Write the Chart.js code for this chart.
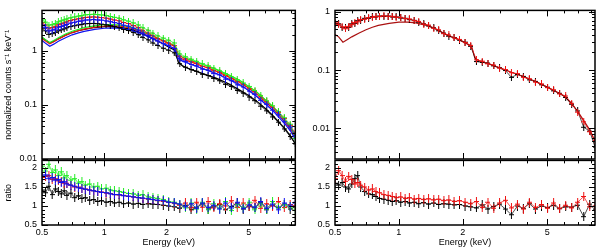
<!DOCTYPE html>
<html><head><meta charset="utf-8">
<script src="https://cdn.jsdelivr.net/npm/chart.js@4.4.0/dist/chart.umd.min.js"></script>
<style>
html,body{margin:0;padding:0;background:#fff;}
#wrap{position:relative;width:600px;height:252px;overflow:hidden;background:#fff;}
canvas{position:absolute;}
</style></head><body>
<div id="wrap">
<canvas id="lu" width="300" height="170" style="left:0;top:0"></canvas>
<canvas id="ru" width="300" height="170" style="left:300px;top:0"></canvas>
<canvas id="ll" width="300" height="102" style="left:0;top:150px"></canvas>
<canvas id="rl" width="300" height="102" style="left:300px;top:150px"></canvas>
</div>
<script>
// ---------- data ----------
const energy = [0.50,0.52,0.54,0.56,0.58,0.60,0.62,0.64,0.66,0.69,0.72,0.75,0.78,0.81,0.85,0.89,0.93,0.97,1.02,1.07,1.12,1.18,1.24,1.31,1.38,1.46,1.54,1.63,1.72,1.82,1.93,2.05,2.18,2.32,2.47,2.63,2.80,2.98,3.18,3.39,3.62,3.86,4.12,4.40,4.70,5.02,5.36,5.72,6.11,6.52,6.96,7.43,7.93,8.40];
const modelEnergy = [0.5,0.52,0.545,0.57,0.6,0.65,0.7,0.75,0.8,0.9,1.0,1.1,1.2,1.35,1.5,1.7,1.9,2.1,2.2,2.28,2.4,2.6,3.0,3.5,4.0,4.5,5.0,5.5,6.0,6.5,7.0,7.5,8.0,8.4];

// left panel: counts
const leftBlack = [2.62,2.35,2.02,2.08,2.2,2.35,2.45,2.55,2.68,2.82,2.92,3.02,3.1,3.18,3.2,3.22,3.18,3.12,3.02,2.92,2.8,2.7,2.5,2.38,2.2,2.0,1.78,1.6,1.4,1.26,1.12,1.03,0.92,0.58,0.50,0.45,0.42,0.37,0.35,0.31,0.28,0.24,0.22,0.185,0.165,0.14,0.12,0.095,0.078,0.060,0.048,0.036,0.026,0.019];
const leftRed = [3.35,3.02,2.62,2.7,2.85,3.05,3.18,3.3,3.45,3.65,3.8,3.92,4.02,4.15,4.2,4.25,4.18,4.12,4.02,3.88,3.72,3.6,3.35,3.2,2.95,2.7,2.4,2.14,1.9,1.7,1.53,1.4,1.25,0.8,0.71,0.63,0.59,0.52,0.49,0.43,0.40,0.35,0.31,0.27,0.24,0.20,0.175,0.14,0.115,0.092,0.073,0.056,0.042,0.030];
const leftGreen = [3.75,3.4,3.0,3.05,3.2,3.45,3.6,3.75,3.9,4.1,4.25,4.4,4.5,4.65,4.7,4.75,4.7,4.62,4.5,4.32,4.18,4.0,3.75,3.55,3.3,3.02,2.68,2.4,2.12,1.9,1.72,1.57,1.4,0.88,0.78,0.7,0.64,0.58,0.53,0.48,0.43,0.38,0.33,0.29,0.255,0.22,0.185,0.15,0.12,0.097,0.076,0.058,0.044,0.024];
const leftBlue = [3.0,2.72,2.33,2.42,2.52,2.74,2.83,2.97,3.08,3.27,3.38,3.52,3.58,3.72,3.74,3.81,3.73,3.71,3.58,3.47,3.33,3.22,2.98,2.87,2.63,2.42,2.13,1.92,1.68,1.52,1.36,1.26,1.11,0.71,0.64,0.56,0.53,0.46,0.44,0.38,0.36,0.30,0.28,0.235,0.215,0.18,0.158,0.122,0.103,0.080,0.066,0.049,0.039,0.027];
const leftModelBlack = [1.75,1.58,1.4,1.5,1.68,1.95,2.18,2.35,2.5,2.7,2.8,2.8,2.72,2.5,2.15,1.72,1.38,1.12,1.03,0.62,0.52,0.46,0.38,0.31,0.245,0.19,0.15,0.115,0.087,0.065,0.048,0.036,0.026,0.019];
const leftModelRed = [1.7,1.52,1.35,1.47,1.65,1.93,2.18,2.37,2.53,2.75,2.88,2.92,2.86,2.64,2.3,1.9,1.55,1.3,1.21,0.79,0.7,0.63,0.52,0.42,0.33,0.265,0.205,0.155,0.116,0.088,0.065,0.048,0.035,0.025];
const leftModelGreen = [1.8,1.6,1.42,1.55,1.75,2.05,2.3,2.5,2.68,2.9,3.05,3.05,3.0,2.75,2.4,1.95,1.6,1.35,1.25,0.85,0.76,0.68,0.56,0.45,0.36,0.29,0.22,0.17,0.125,0.095,0.07,0.052,0.038,0.028];
const leftModelBlue = [1.55,1.38,1.22,1.33,1.5,1.75,1.98,2.15,2.3,2.5,2.62,2.65,2.6,2.4,2.1,1.72,1.4,1.18,1.1,0.72,0.64,0.57,0.47,0.38,0.3,0.24,0.185,0.14,0.105,0.08,0.059,0.044,0.032,0.023];
// left panel: ratio
const leftRatioBlack = [1.42,1.35,1.52,1.3,1.45,1.38,1.32,1.4,1.28,1.34,1.22,1.27,1.2,1.22,1.15,1.17,1.12,1.14,1.1,1.12,1.08,1.1,1.06,1.08,1.05,1.07,1.04,1.06,1.05,1.04,1.02,1.0,0.98,0.94,1.02,0.9,0.97,1.06,0.92,0.98,1.04,0.9,0.99,1.08,0.92,1.0,0.95,1.1,0.9,1.02,0.96,1.05,0.92,0.98];
const leftRatioRed = [1.75,1.78,1.8,1.7,1.72,1.66,1.65,1.6,1.6,1.55,1.5,1.5,1.46,1.45,1.42,1.4,1.38,1.37,1.34,1.33,1.3,1.29,1.28,1.25,1.24,1.22,1.2,1.18,1.17,1.14,1.12,1.1,1.07,1.02,1.08,0.96,1.1,0.97,1.12,0.95,1.06,1.0,1.14,0.96,1.08,0.98,1.15,0.94,1.06,1.0,1.12,0.96,1.04,1.0];
const leftRatioGreen = [2.05,1.92,2.1,1.88,1.95,1.8,1.9,1.74,1.8,1.68,1.72,1.6,1.64,1.55,1.58,1.5,1.52,1.45,1.47,1.42,1.4,1.38,1.36,1.33,1.32,1.28,1.3,1.24,1.22,1.2,1.17,1.12,1.1,1.05,0.95,1.08,0.92,1.1,0.9,1.06,0.94,1.12,0.88,1.04,0.96,1.1,0.9,1.06,0.92,1.12,0.95,1.04,0.98,0.88];
const leftRatioBlue = [1.78,1.82,1.72,1.75,1.68,1.7,1.62,1.64,1.58,1.55,1.52,1.48,1.47,1.44,1.42,1.4,1.38,1.36,1.35,1.32,1.3,1.3,1.27,1.26,1.24,1.22,1.21,1.19,1.17,1.15,1.14,1.1,1.08,1.05,0.98,1.06,0.94,1.08,0.96,1.02,0.92,1.08,0.95,1.1,0.93,1.03,0.97,1.12,0.94,1.05,0.9,1.08,1.0,1.1];

// right panel: counts
const rightBlack = [0.63,0.62,0.54,0.53,0.54,0.62,0.63,0.7,0.71,0.77,0.77,0.82,0.81,0.84,0.83,0.84,0.81,0.81,0.78,0.77,0.73,0.71,0.66,0.62,0.57,0.53,0.47,0.43,0.38,0.36,0.325,0.3,0.255,0.14,0.135,0.132,0.118,0.11,0.098,0.075,0.084,0.078,0.068,0.064,0.056,0.051,0.044,0.04,0.034,0.026,0.02,0.0105,0.009,0.0048];
const rightRed = [0.66,0.6,0.55,0.51,0.56,0.6,0.65,0.67,0.73,0.74,0.79,0.8,0.83,0.82,0.85,0.83,0.83,0.8,0.8,0.76,0.75,0.7,0.68,0.61,0.59,0.52,0.49,0.42,0.4,0.355,0.335,0.295,0.265,0.15,0.142,0.128,0.122,0.108,0.102,0.09,0.087,0.075,0.071,0.062,0.058,0.05,0.046,0.039,0.036,0.027,0.019,0.013,0.0088,0.0062];
const rightModel = [0.405,0.37,0.3,0.33,0.37,0.43,0.49,0.54,0.58,0.63,0.66,0.66,0.64,0.58,0.5,0.39,0.335,0.28,0.26,0.16,0.142,0.131,0.108,0.088,0.074,0.062,0.051,0.043,0.036,0.027,0.019,0.013,0.009,0.006];
// right panel: ratio
const rightRatioBlack = [1.6,1.55,1.62,1.5,1.45,1.58,1.72,1.8,1.5,1.38,1.32,1.3,1.25,1.2,1.18,1.15,1.12,1.14,1.1,1.12,1.08,1.1,1.06,1.09,1.05,1.08,1.04,1.06,1.05,1.03,1.04,1.0,0.98,0.95,1.03,0.92,0.99,1.05,0.92,0.77,1.0,0.94,1.06,0.92,1.0,0.96,1.02,0.93,0.98,0.97,1.02,0.72,1.05,0.9];
const rightRatioRed = [1.72,1.93,1.8,1.65,1.78,1.7,1.58,1.62,1.55,1.5,1.42,1.45,1.38,1.35,1.3,1.28,1.25,1.22,1.24,1.2,1.22,1.18,1.2,1.17,1.19,1.16,1.18,1.14,1.16,1.12,1.14,1.1,1.06,1.12,0.96,1.1,0.94,1.08,1.15,0.95,1.05,0.92,1.1,0.96,1.04,0.94,1.08,0.93,1.02,0.95,1.1,1.25,0.98,1.0];
const unityLine = [1,1];
const unityEnergy = [0.5,8.4];

// ticks
const xLabelTicks = [0.5,1,2,5];
const xMajorTicks = [1,2,5];
const xMinorTicks = [0.6,0.7,0.8,0.9,3,4,6,7,8];
const leftCountTicks = [0.01,0.1,1];
const leftCountMinor = [0.02,0.03,0.04,0.05,0.06,0.07,0.08,0.09,0.2,0.3,0.4,0.5,0.6,0.7,0.8,0.9,2,3,4,5];
const rightCountTicks = [0.01,0.1,1];
const rightCountMinor = [0.004,0.005,0.006,0.007,0.008,0.009,0.02,0.03,0.04,0.05,0.06,0.07,0.08,0.09,0.2,0.3,0.4,0.5,0.6,0.7,0.8,0.9];
const ratioTicks = [0.5,1,1.5,2];
const ratioMinor = [0.6,0.7,0.8,0.9,1.1,1.2,1.3,1.4,1.6,1.7,1.8,1.9,2.1];

// ---------- styles ----------
const C = {black:'#000000', red:'#ee1111', green:'#22ee22', blue:'#1111ee', line:'#22dd22', darkred:'#aa1111'};
Chart.defaults.font.family = '"Liberation Sans", Arial, sans-serif';
Chart.defaults.font.size = 9;
Chart.defaults.color = '#000';

// error-bar style cross marker (horizontal bin half-width w, vertical error h)
function crossImg(col, w, h) {
  const c = document.createElement('canvas');
  c.width = 2 * w + 1; c.height = 2 * h + 1;
  const g = c.getContext('2d');
  g.fillStyle = col;
  g.fillRect(0, h, 2 * w + 1, 1);
  g.fillRect(w, 0, 1, 2 * h + 1);
  return c;
}

const pts = (xs, ys) => xs.map((x,i)=>({x:x, y:ys[i]}));
const dataSet = (vals, col, order, h) => ({data: pts(energy, vals), borderColor: col, backgroundColor: col,
  showLine: true, borderWidth: 0.7, pointStyle: crossImg(col, 2, h), pointRadius: 3, order: order, tension: 0});
const modelSet = (vals, col, order) => ({data: pts(modelEnergy, vals), borderColor: col, showLine: true,
  borderWidth: 1.2, pointRadius: 0, order: order, tension: 0});
const unitySet = () => ({data: pts(unityEnergy, unityLine), borderColor: C.line, borderWidth: 1.5, pointRadius: 0, order: -1});

const frame = {
  id: 'frame',
  afterDatasetsDraw(chart, args, o) {
    const {ctx, chartArea: a} = chart;
    const xs = chart.scales.x, ys = chart.scales.y;
    ctx.save();
    ctx.strokeStyle = '#000';
    ctx.lineWidth = 1;
    ctx.beginPath();
    const xt = (vals, len) => vals.forEach(v => { const p = Math.round(xs.getPixelForValue(v)) + 0.5;
      ctx.moveTo(p, a.bottom); ctx.lineTo(p, a.bottom - len); ctx.moveTo(p, a.top); ctx.lineTo(p, a.top + len); });
    const yt = (vals, len) => vals.forEach(v => { const p = Math.round(ys.getPixelForValue(v)) + 0.5;
      ctx.moveTo(a.left, p); ctx.lineTo(a.left + len, p); ctx.moveTo(a.right, p); ctx.lineTo(a.right - len, p); });
    xt(o.xMajor, 6); xt(o.xMinor, 3); yt(o.yMajor, 6); yt(o.yMinor, 3);
    ctx.stroke();
    ctx.lineWidth = 1.5;
    ctx.strokeRect(a.left, a.top, a.right - a.left, a.bottom - a.top);
    ctx.restore();
  }
};

function makeChart(id, datasets, cfg) {
  const xAxis = {type: 'logarithmic', min: 0.5, max: 8.4, display: cfg.xLabels,
    grid: {display: false, drawTicks: false}, border: {display: false},
    afterBuildTicks: s => { s.ticks = xLabelTicks.map(v => ({value: v})); },
    afterFit: s => { s.height = cfg.xLabels ? 27 : 0; },
    ticks: {autoSkip: false, maxRotation: 0, padding: 2, callback: v => String(v)},
    title: {display: cfg.xLabels, text: 'Energy (keV)', padding: {top: 0, bottom: 4}}};
  const yAxis = {type: cfg.yType, min: cfg.yMin, max: cfg.yMax,
    grid: {display: false, drawTicks: false}, border: {display: false},
    afterBuildTicks: s => { s.ticks = cfg.yTicks.map(v => ({value: v})); },
    afterFit: s => { s.width = cfg.yWidth; },
    ticks: {autoSkip: false, padding: 5, callback: v => String(v)},
    title: {display: !!cfg.yTitle, text: cfg.yTitle || '', padding: {top: 3, bottom: 0}}};
  return new Chart(document.getElementById(id), {
    type: 'scatter',
    data: {datasets: datasets},
    options: {responsive: false, animation: false, devicePixelRatio: 1, events: [],
      layout: {padding: cfg.padding},
      scales: {x: xAxis, y: yAxis},
      plugins: {legend: {display: false}, tooltip: {enabled: false},
        frame: {xMajor: xMajorTicks, xMinor: xMinorTicks, yMajor: cfg.yTicks, yMinor: cfg.yMinor}}},
    plugins: [frame]
  });
}

makeChart('lu', [
  dataSet(leftBlue, C.blue, 0, 3), dataSet(leftGreen, C.green, 1, 3), dataSet(leftRed, C.red, 2, 3), dataSet(leftBlack, C.black, 3, 3),
  modelSet(leftModelBlue, C.blue, 4), modelSet(leftModelGreen, C.green, 5), modelSet(leftModelRed, C.red, 6), modelSet(leftModelBlack, C.black, 7)
], {xLabels: false, yType: 'logarithmic', yMin: 0.01, yMax: 5.6, yTicks: leftCountTicks, yMinor: leftCountMinor,
  yWidth: 42, yTitle: 'normalized counts s\u207B\u00B9 keV\u207B\u00B9', padding: {top: 8, right: 2, bottom: 11, left: 0}});

makeChart('ll', [
  unitySet(),
  dataSet(leftRatioBlue, C.blue, 0, 4), dataSet(leftRatioGreen, C.green, 1, 4), dataSet(leftRatioRed, C.red, 2, 4), dataSet(leftRatioBlack, C.black, 3, 4)
], {xLabels: true, yType: 'linear', yMin: 0.5, yMax: 2.2, yTicks: ratioTicks, yMinor: ratioMinor,
  yWidth: 42, yTitle: 'ratio', padding: {top: 9, right: 2, bottom: 0, left: 0}});

makeChart('ru', [
  dataSet(rightRed, C.red, 0, 3), dataSet(rightBlack, C.black, 1, 3), modelSet(rightModel, C.darkred, 2)
], {xLabels: false, yType: 'logarithmic', yMin: 0.003, yMax: 1.05, yTicks: rightCountTicks, yMinor: rightCountMinor,
  yWidth: 35, yTitle: null, padding: {top: 8, right: 5, bottom: 11, left: 0}});

makeChart('rl', [
  unitySet(), dataSet(rightRatioRed, C.red, 0, 4), dataSet(rightRatioBlack, C.black, 1, 4)
], {xLabels: true, yType: 'linear', yMin: 0.5, yMax: 2.2, yTicks: ratioTicks, yMinor: ratioMinor,
  yWidth: 35, yTitle: null, padding: {top: 9, right: 5, bottom: 0, left: 0}});
</script>
</body></html>
